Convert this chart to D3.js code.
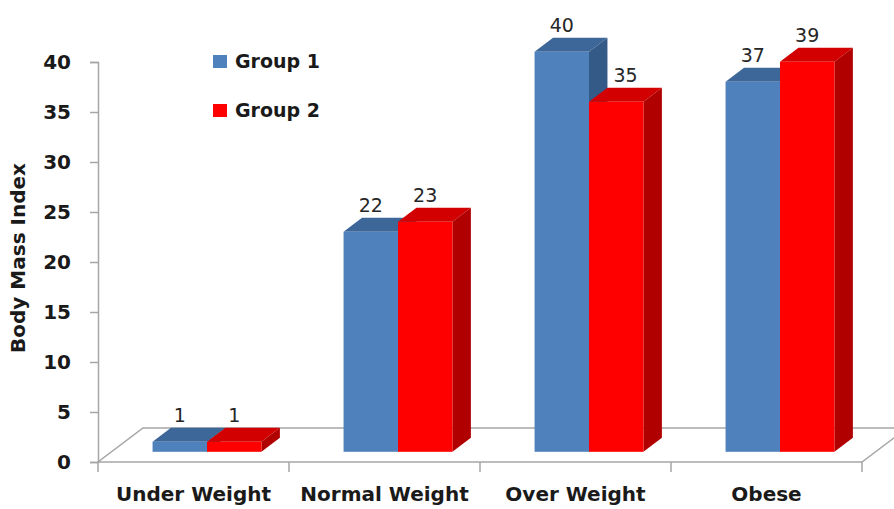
<!DOCTYPE html>
<html>
<head>
<meta charset="utf-8">
<script src="https://cdn.jsdelivr.net/npm/d3@7"></script>
<style>
  body { margin: 0; background: #fff; }
  svg { display: block; }
  text { font-family: "DejaVu Sans", sans-serif; }
</style>
</head>
<body>
<svg id="chart"></svg>
<script>
const width = 894, height = 509;

// data
const categories = ["Under Weight", "Normal Weight", "Over Weight", "Obese"];
const seriesNames = ["Group 1", "Group 2"];
const group1 = [1, 22, 40, 37];
const group2 = [1, 23, 35, 39];
const yTicks = [0, 5, 10, 15, 20, 25, 30, 35, 40];

const faces = [
    {front: "#4f81bd", top: "#3c6798", side: "#345a88"},
    {front: "#ff0000", top: "#d20000", side: "#b00000"}
];

const svg = d3.select("#chart")
    .attr("width", width)
    .attr("height", height);

const left = 98, right = 862, floorY = 462;
const depth = [45, -34];          // floor depth vector
const barShift = 0.3, barDepth = 0.41;
const axisGray = "#a6a6a6";

const x = d3.scaleBand().domain(categories).range([left, right]);
const y = d3.scaleLinear().domain([0, 40]).range([floorY, 62]);
const inner = d3.scaleBand().domain(seriesNames)
    .range([0, x.bandwidth() * 0.57]);

// floor
const floorPts = [[left, floorY], [right, floorY],
    [right + depth[0], floorY + depth[1]], [left + depth[0], floorY + depth[1]]];
svg.append("path")
    .attr("d", d3.line()(floorPts) + "Z")
    .attr("fill", "#fff")
    .attr("stroke", axisGray)
    .attr("stroke-width", 1.5);

// y axis
const yAxis = svg.append("g")
    .attr("transform", `translate(${left},0)`)
    .call(d3.axisLeft(y).tickValues(yTicks).tickSize(8).tickPadding(19));
yAxis.select(".domain").attr("stroke", axisGray).attr("stroke-width", 1.5);
yAxis.selectAll(".tick line").attr("stroke", axisGray).attr("stroke-width", 1.5);
yAxis.selectAll("text")
    .attr("fill", "#1a1a1a")
    .style("font-family", "'DejaVu Sans', sans-serif")
    .style("font-weight", "bold")
    .style("font-size", "20px");

// x axis on the front edge of the floor
const xAxis = svg.append("g")
    .attr("transform", `translate(0,${floorY})`)
    .call(d3.axisBottom(x).tickSize(0).tickPadding(32));
xAxis.select(".domain").remove();
xAxis.selectAll("text")
    .attr("dy", "0.36em")
    .attr("fill", "#1a1a1a")
    .style("font-family", "'DejaVu Sans', sans-serif")
    .style("font-weight", "bold")
    .style("font-size", "20px");
svg.append("g").selectAll("line")
    .data(d3.range(categories.length + 1))
    .join("line")
    .attr("x1", i => left + i * x.step())
    .attr("x2", i => left + i * x.step())
    .attr("y1", floorY).attr("y2", floorY + 10)
    .attr("stroke", axisGray).attr("stroke-width", 1.5);

// bars
const dx0 = depth[0] * barShift, dy0 = depth[1] * barShift;
const ddx = depth[0] * barDepth, ddy = depth[1] * barDepth;
const bars = [];
categories.forEach((c, i) => {
    [group1[i], group2[i]].forEach((v, s) => {
        const x0 = x(c) + (x.bandwidth() - inner.range()[1]) / 2 + inner(seriesNames[s]) + dx0;
        const w = inner.bandwidth();
        const yb = y(0) + dy0, yt = y(v) + dy0;
        bars.push({c, s, v, x0, w, yb, yt});
    });
});

const barG = svg.append("g").selectAll("g").data(bars).join("g");
barG.append("path")
    .attr("d", d => d3.line()([[d.x0, d.yt], [d.x0 + ddx, d.yt + ddy],
        [d.x0 + d.w + ddx, d.yt + ddy], [d.x0 + d.w, d.yt]]) + "Z")
    .attr("fill", d => faces[d.s].top);
barG.append("path")
    .attr("d", d => d3.line()([[d.x0 + d.w, d.yt], [d.x0 + d.w + ddx, d.yt + ddy],
        [d.x0 + d.w + ddx, d.yb + ddy], [d.x0 + d.w, d.yb]]) + "Z")
    .attr("fill", d => faces[d.s].side);
barG.append("rect")
    .attr("x", d => d.x0).attr("y", d => d.yt)
    .attr("width", d => d.w).attr("height", d => d.yb - d.yt)
    .attr("fill", d => faces[d.s].front);

// value labels; nudge right when a taller neighbour's side face is in the way
const labels = svg.append("g").selectAll("text").data(bars).join("text")
    .attr("y", d => d.yt + ddy - 6)
    .attr("text-anchor", "middle")
    .attr("fill", "#262626")
    .style("font-size", "19px")
    .text(d => d.v);
labels.attr("x", function(d, i) {
    let cx = d.x0 + d.w / 2;
    const prev = bars[i - 1];
    if (d.s > 0 && prev && prev.v > d.v) {
        const half = this.getComputedTextLength() / 2;
        const minLeft = prev.x0 + prev.w + ddx + 6;
        if (cx - half < minLeft) cx = minLeft + half;
    }
    return cx;
});

// y label
svg.append("text")
    .attr("transform", `translate(25,${(y(0) + y(40)) / 2 - 4}) rotate(-90)`)
    .attr("text-anchor", "middle")
    .attr("fill", "#1a1a1a")
    .style("font-weight", "bold")
    .style("font-size", "20px")
    .text("Body Mass Index");

// legend
const legend = svg.append("g").selectAll("g").data(seriesNames).join("g")
    .attr("transform", (d, i) => `translate(213,${55 + i * 49})`);
legend.append("rect")
    .attr("width", 14).attr("height", 13)
    .attr("fill", (d, i) => faces[i].front);
legend.append("text")
    .attr("x", 22).attr("y", 13)
    .attr("fill", "#1a1a1a")
    .style("font-weight", "bold")
    .style("font-size", "19px")
    .text(d => d);
</script>
</body>
</html>
